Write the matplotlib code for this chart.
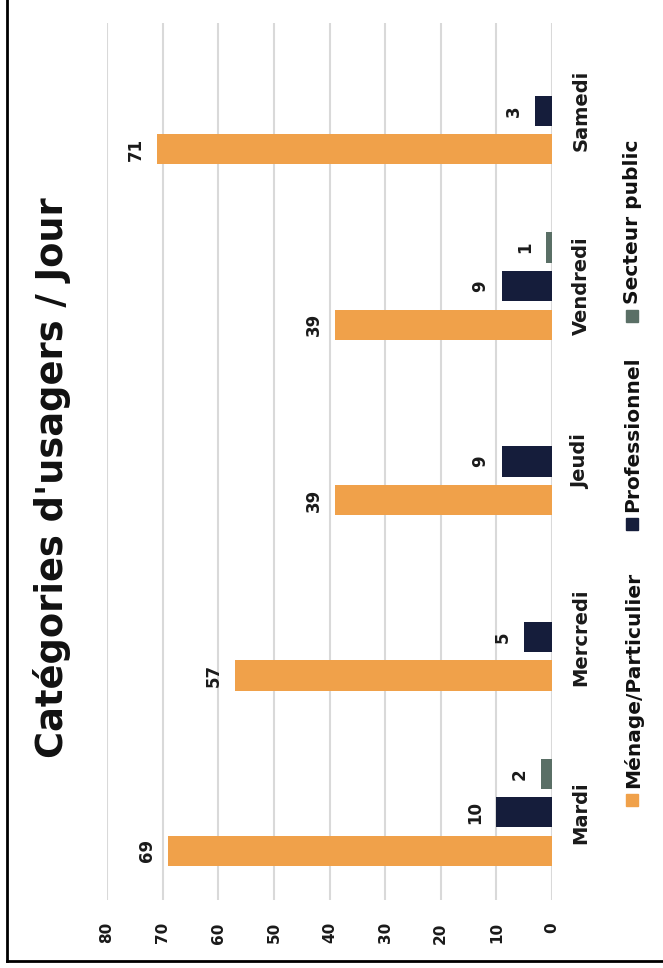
import numpy as np
import matplotlib
matplotlib.use("Agg")
import matplotlib.pyplot as plt
from matplotlib.lines import Line2D
from matplotlib.patches import Rectangle

jours = ["Mardi", "Mercredi", "Jeudi", "Vendredi", "Samedi"]
menage = [69, 57, 39, 39, 71]
professionnel = [10, 5, 9, 9, 3]
secteur_public = [2, 0, 0, 1, 0]

series = ["Ménage/Particulier", "Professionnel", "Secteur public"]
couleurs = ["#F0A14A", "#151D3B", "#5A6F66"]

plt.rcParams["font.family"] = "DejaVu Sans"
plt.rcParams["font.weight"] = "bold"

W, H = 663, 968
fig = plt.figure(figsize=(W / 100, H / 100), dpi=100)
# graphique pivoté de 90° : axe des valeurs horizontal, 0 à droite
ax = fig.add_axes([107 / W, (H - 900) / H, (552 - 107) / W, (900 - 23) / H])

y = np.arange(len(jours))
decalage = 0.22
hauteur = 0.172
for k, (vals, coul) in enumerate(zip([menage, professionnel, secteur_public], couleurs)):
    pos = y + (k - 1) * decalage
    ax.barh(pos, vals, height=hauteur, color=coul, zorder=3)
    for v, p in zip(vals, pos):
        if v == 0:
            continue
        ax.annotate(str(v), (v, p), xytext=(-9, 0), textcoords="offset points",
                    ha="right", va="center", rotation=90, fontsize=12,
                    fontweight="bold", color="#1a1a1a")

ax.set_xlim(80, 0)
ax.set_ylim(-0.5, len(jours) - 0.5)
ax.set_xticks(range(0, 81, 10))
ax.set_xticklabels([str(v) for v in range(0, 81, 10)], rotation=90,
                   fontsize=11, fontweight="bold", color="#1a1a1a")
ax.set_yticks(y)
ax.set_yticklabels(jours, rotation=90, va="center", fontsize=14,
                   fontweight="bold", color="#1a1a1a")
ax.yaxis.tick_right()
ax.tick_params(axis="y", length=0, pad=14)
ax.tick_params(axis="x", length=0, pad=16)
ax.grid(axis="x", color="#D9D9D9", lw=1.5, zorder=0)
for s in ax.spines.values():
    s.set_visible(False)

# titre
fig.text(52 / W, 1 - 478 / H, "Catégories d'usagers / Jour", rotation=90,
         ha="center", va="center", fontsize=26.5, fontweight="bold", color="#111111")

# légende
leg_y = [800, 524, 316]
for nom, coul, yy in zip(series, couleurs, leg_y):
    fig.add_artist(Rectangle(((626) / W, 1 - (yy + 6) / H), 12 / W, 12 / H,
                             transform=fig.transFigure, color=coul))
    fig.text(633 / W, 1 - (yy - 12) / H, nom, rotation=90, ha="center", va="bottom",
             fontsize=14.5, fontweight="bold", color="#111111")

# cadre
fig.add_artist(Line2D([7 / W, 7 / W], [1 - 961 / H, 1], transform=fig.transFigure,
                      color="black", lw=2))
fig.add_artist(Line2D([7 / W, 1], [1 - 961 / H, 1 - 961 / H], transform=fig.transFigure,
                      color="black", lw=2))

fig.savefig("out.png", dpi=100)
